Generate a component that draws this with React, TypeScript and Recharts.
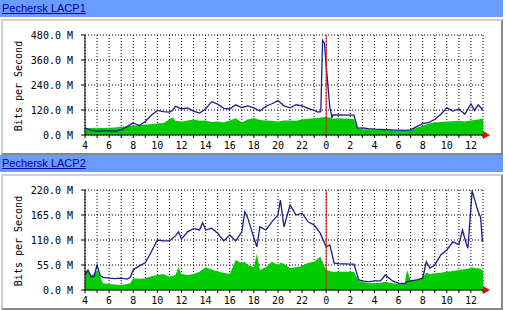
import React from "react";
import {
  ComposedChart,
  Area,
  Line,
  XAxis,
  YAxis,
  CartesianGrid,
  ReferenceLine,
  ReferenceDot,
} from "recharts";

// часы (4 = 04:00 первого дня, 24 = полночь, 37 = 13:00 следующего дня)
const hours1 = [
  4, 4.25, 4.5, 5, 5.5, 6, 6.5, 7, 7.5, 8, 8.5, 9, 9.5, 10, 10.5, 11, 11.25, 11.5,
  12, 12.5, 13, 13.5, 14, 14.5, 15, 15.5, 16, 16.5, 17, 17.5, 18, 18.5, 19, 19.5,
  20, 20.5, 21, 21.5, 22, 22.5, 23, 23.3, 23.55, 23.7, 23.85, 24.15, 24.3, 24.4,
  24.48, 24.55, 25, 26, 26.3, 26.6, 27, 27.5, 28, 29, 29.5, 30, 30.5, 31, 31.5,
  32, 32.5, 33, 33.5, 34, 34.5, 35, 35.5, 36, 36.3, 36.6, 37,
];
// входящий трафик (зелёная область), Мбит/с
const in1 = [
  32, 32, 34, 35, 34, 35, 36, 40, 42, 45, 47, 50, 52, 55, 58, 75, 85, 68,
  65, 70, 75, 68, 70, 62, 65, 60, 70, 80, 60, 75, 82, 72, 70, 68,
  65, 70, 70, 68, 75, 78, 80, 82, 84, 85, 86, 85, 84, 82,
  80, 78, 80, 78, 76, 30, 28, 26, 25, 24, 22, 21, 22, 24, 35,
  45, 55, 60, 62, 65, 66, 68, 65, 70, 72, 75, 78,
];
// исходящий трафик (синяя линия), Мбит/с
const out1 = [
  34, 28, 22, 18, 20, 20, 18, 25, 40, 58, 45, 65, 95, 118, 112, 110, 118, 138,
  125, 130, 115, 105, 125, 160, 148, 128, 125, 145, 132, 140, 130, 115, 138, 150,
  165, 140, 130, 145, 140, 128, 118, 110, 112, 455, 440, 230, 134, 105,
  82, 96, 96, 95, 95, 33, 34, 30, 28, 26, 24, 23, 22, 25, 40,
  55, 60, 75, 100, 130, 115, 125, 100, 150, 118, 145, 120,
];

const hours2 = [
  4, 4.25, 4.5, 4.75, 5, 5.25, 5.5, 6, 6.5, 7, 7.5, 7.75, 8, 8.5, 9, 9.5, 10,
  10.5, 11, 11.5, 11.75, 12, 12.5, 13, 13.5, 13.75, 14, 14.5, 15, 15.5, 16, 16.5,
  17, 17.25, 17.5, 18, 18.25, 18.5, 19, 19.5, 20, 20.2, 20.5, 21, 21.5, 22, 22.5,
  23, 23.5, 24, 24.3, 24.5, 24.65, 25, 26, 26.3, 26.7, 27, 27.5, 28, 28.5, 28.9,
  29.5, 30, 30.5, 30.7, 31, 31.5, 32, 32.3, 32.6, 33, 33.5, 34, 34.5, 35, 35.3,
  35.6, 35.75, 36.1, 36.3, 36.6, 36.8, 36.95, 37,
];
const in2 = [
  44, 40, 33, 35, 44, 30, 15, 13, 12, 11, 13, 15, 26, 25, 26, 30, 33,
  35, 29, 33, 50, 35, 33, 35, 40, 45, 50, 45, 40, 38, 35, 66,
  59, 62, 55, 50, 80, 44, 50, 62, 55, 60, 58, 48, 50, 53, 60,
  62, 73, 44, 42, 40, 40, 40, 40, 40, 20, 18, 15, 15, 16, 18,
  15, 14, 13, 44, 22, 20, 28, 38, 35, 37, 38, 40, 42, 44, 45,
  46, 47, 50, 48, 48, 46, 44, 44,
];
const out2 = [
  33, 44, 29, 30, 55, 32, 28, 26, 25, 26, 24, 28, 44, 53, 60, 84, 110,
  108, 108, 119, 128, 112, 128, 135, 132, 148, 132, 136, 125, 108, 121, 108,
  128, 172, 158, 115, 95, 139, 132, 150, 165, 198, 139, 187, 165, 169, 150,
  143, 125, 95, 99, 77, 59, 58, 57, 57, 22, 20, 18, 20, 20, 33,
  20, 15, 14, 18, 20, 22, 26, 62, 48, 55, 77, 88, 106, 100, 132,
  103, 92, 218, 200, 172, 160, 108, 110,
];

const yTicks1 = [0, 120, 240, 360, 480];
const yTicks2 = [0, 55, 110, 165, 220];
const hourTicks = Array.from({ length: 34 }, (_, i) => 4 + i);

const data1 = hours1.map((h, i) => ({ h, inM: in1[i], outM: out1[i] }));
const data2 = hours2.map((h, i) => ({ h, inM: in2[i], outM: out2[i] }));

const mono = '"DejaVu Sans Mono", monospace';

const Arrow = (props: any) => {
  const { cx, cy } = props;
  return (
    <polygon
      points={`${cx},${cy - 4} ${cx + 7},${cy} ${cx},${cy + 4}`}
      fill="#ff0000"
    />
  );
};

function Panel({ top, title, data, yTicks }: any) {
  const yMax = yTicks[yTicks.length - 1];
  return (
    <>
      <div
        style={{
          position: "absolute",
          left: 0,
          top,
          width: 503,
          height: 17,
          background: "#6a9bff",
        }}
      >
        <span
          style={{
            position: "absolute",
            left: 2,
            top: 1,
            font: '11px "Liberation Sans", Arial, sans-serif',
            lineHeight: "15px",
            color: "#0000aa",
            textDecoration: "underline",
          }}
        >
          {title}
        </span>
      </div>
      <div
        style={{
          position: "absolute",
          left: 1,
          top: top + 19,
          width: 502,
          height: 136,
          boxSizing: "border-box",
          border: "2px solid",
          borderColor: "#d0d0d0 #888888 #888888 #d0d0d0",
          background: "#fff",
        }}
      />
      <div
        style={{
          position: "absolute",
          left: 18,
          top: top + 86,
          transform: "translate(-50%, -50%) rotate(-90deg)",
          whiteSpace: "nowrap",
          font: `10px ${mono}`,
          color: "#000",
        }}
      >
        Bits per Second
      </div>
      <div style={{ position: "absolute", left: 0, top: top + 19 }}>
        <ComposedChart
          width={505}
          height={136}
          data={data}
          margin={{ top: 16, right: 22, bottom: 0, left: 0 }}
        >
          <XAxis
            type="number"
            dataKey="h"
            domain={[4, 37]}
            ticks={hourTicks}
            interval={0}
            height={20}
            tickSize={3}
            tickMargin={4}
            stroke="#000"
            tick={{ fontSize: 10, fontFamily: mono, fill: "#000" }}
            tickFormatter={(h) => (h % 2 === 0 ? String(h % 24) : "")}
          />
          <YAxis
            type="number"
            domain={[0, yMax]}
            ticks={yTicks}
            interval={0}
            width={85}
            tickSize={4}
            tickMargin={8}
            stroke="#000"
            tick={{ fontSize: 10, fontFamily: mono, fill: "#000" }}
            tickFormatter={(v) => `${v.toFixed(1)} M`}
          />
          <Area
            type="linear"
            dataKey="inM"
            fill="#00cc00"
            fillOpacity={1}
            stroke="none"
            isAnimationActive={false}
          />
          <CartesianGrid stroke="#000" strokeDasharray="1 2" />
          <Line
            type="linear"
            dataKey="outM"
            stroke="#1c1c8e"
            strokeWidth={1.3}
            dot={false}
            isAnimationActive={false}
          />
          <ReferenceLine x={24} stroke="#d02010" strokeWidth={1} />
          <ReferenceDot x={37} y={0} ifOverflow="visible" shape={Arrow} />
        </ComposedChart>
      </div>
    </>
  );
}

export default function App() {
  return (
    <div
      style={{
        position: "absolute",
        left: 0,
        top: 0,
        width: 505,
        height: 310,
        background: "#fff",
        overflow: "hidden",
      }}
    >
      <Panel top={0} title="Pechersk LACP1" data={data1} yTicks={yTicks1} />
      <Panel top={155} title="Pechersk LACP2" data={data2} yTicks={yTicks2} />
    </div>
  );
}
